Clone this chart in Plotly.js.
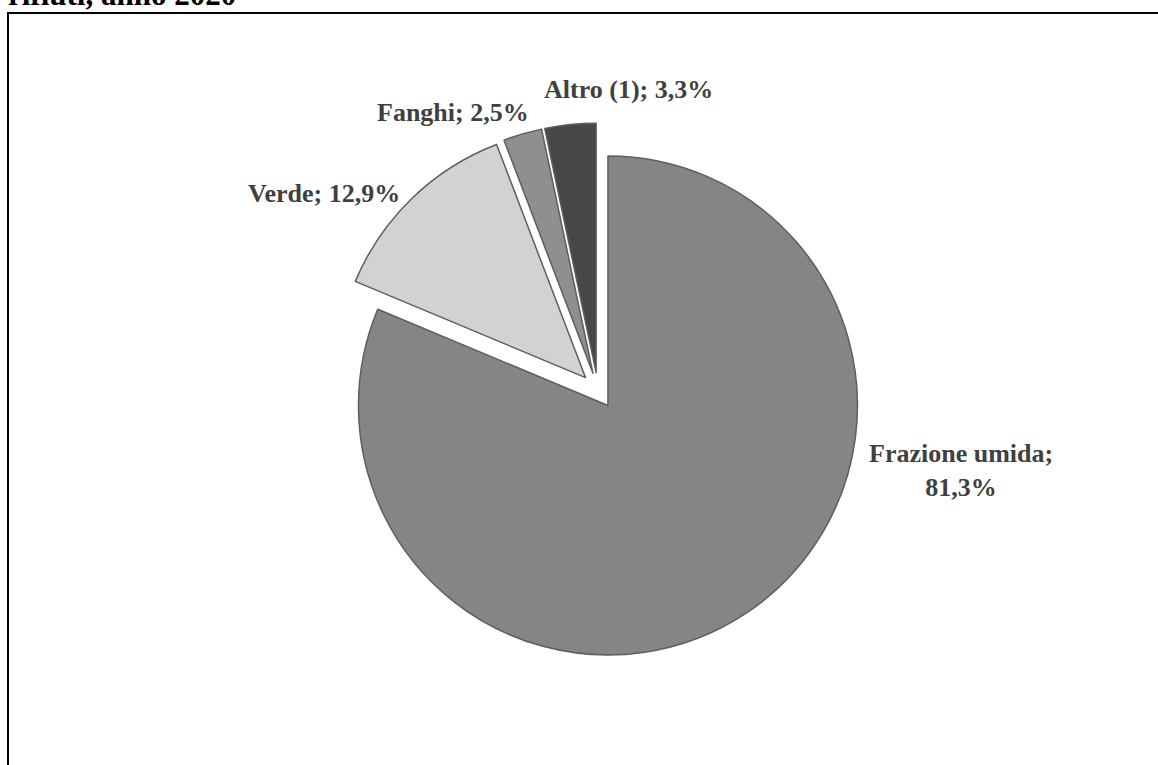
<!DOCTYPE html>
<html>
<head>
<meta charset="utf-8">
<script src="https://cdn.plot.ly/plotly-3.0.1.min.js"></script>
<style>html,body{margin:0;padding:0;background:#fff;}</style>
</head>
<body>
<div id="chart" style="width:1158px;height:765px;"></div>
<script>
const categories = ['Frazione umida', 'Verde', 'Fanghi', 'Altro (1)'];
const values = [81.3, 12.9, 2.5, 3.3];
const sliceColors = ['#858585', '#d2d2d2', '#8f8f8f', '#474747'];
const titleText = 'rifiuti, anno 2020';

const W = 1158, H = 765;
const cx = 598, cy = 390.5, r = 249.5, pull = 0.072;
const half = r * (1 + pull);

// label placement (pixel centres) and line breaking, kept separate from the data
const labelPos = [[961, 470], [324, 193], [453, 112], [628, 89]];
const labelBreak = [true, false, false, false];

function fmt(v) { return v.toFixed(1).replace('.', ',') + '%'; }

const trace = {
  type: 'pie',
  labels: categories,
  values: values,
  sort: false,
  direction: 'clockwise',
  rotation: 0,
  pull: pull,
  marker: {colors: sliceColors, line: {color: '#5e5e5e', width: 1.5}},
  textinfo: 'none',
  hoverinfo: 'label+percent',
  showlegend: false,
  domain: {
    x: [(cx - half) / W, (cx + half) / W],
    y: [(H - cy - half) / H, (H - cy + half) / H]
  }
};

const labelFont = {family: 'Liberation Serif, Times New Roman, serif', size: 26, color: '#404040', weight: 'bold'};
const annotations = categories.map((c, i) => ({
  text: c + ';' + (labelBreak[i] ? '<br>' : ' ') + fmt(values[i]),
  xref: 'paper', yref: 'paper',
  x: labelPos[i][0] / W, y: 1 - labelPos[i][1] / H,
  xanchor: 'center', yanchor: 'middle', align: 'center',
  showarrow: false, font: labelFont
}));

const layout = {
  width: W, height: H,
  margin: {l: 0, r: 0, t: 0, b: 0},
  paper_bgcolor: '#ffffff',
  separators: ',.',
  showlegend: false,
  title: {
    text: titleText,
    x: 8 / W, xanchor: 'left', xref: 'container',
    y: 1 - 5 / H, yanchor: 'bottom', yref: 'container',
    font: {family: 'Liberation Serif, Times New Roman, serif', size: 31, color: '#000000', weight: 'bold'}
  },
  annotations: annotations,
  shapes: [{
    type: 'rect', xref: 'paper', yref: 'paper',
    x0: 8 / W, x1: 1.05, y0: -0.1, y1: 1 - 13 / H,
    line: {color: '#000000', width: 2}, fillcolor: 'rgba(0,0,0,0)', layer: 'below'
  }]
};

Plotly.newPlot('chart', [trace], layout, {displayModeBar: false, staticPlot: true});
</script>
</body>
</html>
